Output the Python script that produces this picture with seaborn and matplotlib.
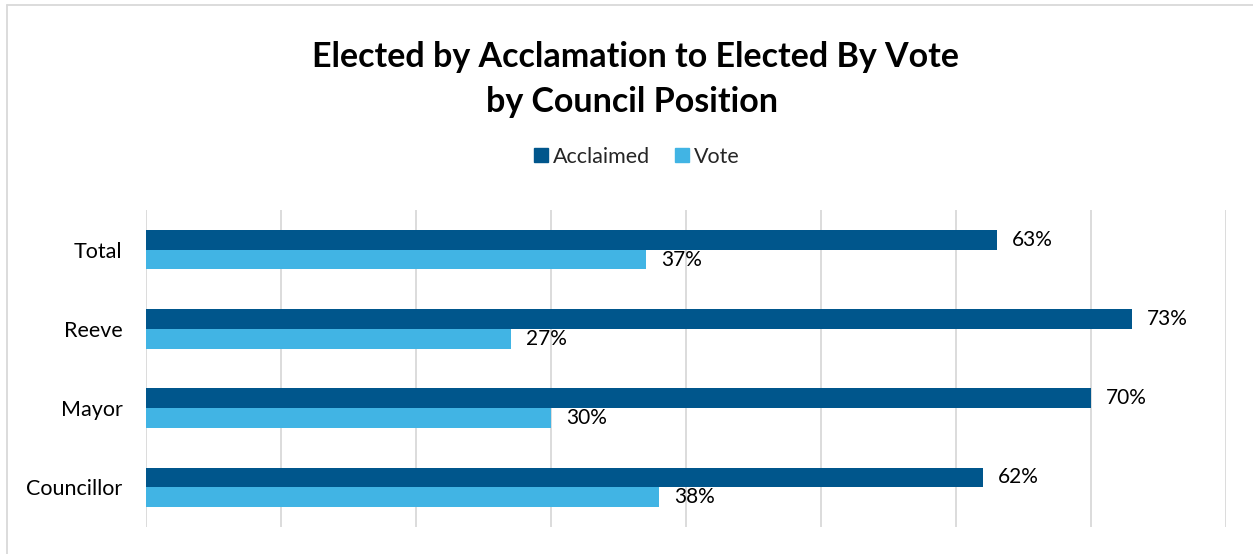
import matplotlib
matplotlib.use("Agg")
import matplotlib.pyplot as plt
import seaborn as sns
import pandas as pd
from matplotlib.lines import Line2D

categories = ["Total", "Reeve", "Mayor", "Councillor"]
acclaimed = [63, 73, 70, 62]
vote = [37, 27, 30, 38]
series_names = ["Acclaimed", "Vote"]
colors = ["#00568C", "#41B4E4"]

df = pd.DataFrame({
    "Position": categories * 2,
    "Type": [series_names[0]] * len(categories) + [series_names[1]] * len(categories),
    "Percent": acclaimed + vote,
})

sns.set_theme(style="white")
plt.rcParams["font.family"] = ["Lato", "DejaVu Sans"]

fig = plt.figure(figsize=(12.53, 5.54), dpi=100)
ax = fig.add_axes([146 / 1253, 1 - 527 / 554, (1226 - 146) / 1253, (527 - 210) / 554])

sns.barplot(data=df, y="Position", x="Percent", hue="Type", order=categories,
            hue_order=series_names, palette=colors, orient="h", width=0.5,
            ax=ax, legend=False, saturation=1, linewidth=0)

ax.set_xlim(0, 80)
ax.set_ylim(3.5, -0.5)
ax.set_xticks(range(0, 81, 10))
ax.set_xticklabels([])
ax.xaxis.grid(True, color="#D9D9D9", linewidth=1.3)
ax.set_axisbelow(True)
for s in ax.spines.values():
    s.set_visible(False)
ax.set_xlabel("")
ax.set_ylabel("")
ax.tick_params(axis="y", length=0, pad=17, labelsize=15.5, labelcolor="#000000")
ax.tick_params(axis="x", length=0)

for cont in ax.containers:
    ax.bar_label(cont, labels=[f"{int(round(b.get_width()))}%" for b in cont],
                 padding=11, fontsize=15, color="#000000")

fig.text(0.507, 1 - 57 / 554, "Elected by Acclamation to Elected By Vote",
         ha="center", va="center", fontsize=24.5, fontweight="bold", color="#000000")
fig.text(0.504, 1 - 102 / 554, "by Council Position",
         ha="center", va="center", fontsize=24.5, fontweight="bold", color="#000000")

handles = [Line2D([0], [0], marker="s", linestyle="", markersize=10,
                  markerfacecolor=c, markeredgecolor=c) for c in colors]
fig.legend(handles, series_names, loc="center", bbox_to_anchor=(0.507, 1 - 157 / 554),
           ncol=2, frameon=False, fontsize=15.5, handletextpad=0.05, columnspacing=1.0,
           handlelength=1.0)

# chart border (left and top visible)
fig.add_artist(Line2D([7 / 1253, 7 / 1253], [0, 1 - 5 / 554], transform=fig.transFigure,
                      color="#D9D9D9", linewidth=1.3))
fig.add_artist(Line2D([7 / 1253, 1], [1 - 5 / 554, 1 - 5 / 554], transform=fig.transFigure,
                      color="#D9D9D9", linewidth=1.3))

fig.savefig("out.png", dpi=100, facecolor="white")
